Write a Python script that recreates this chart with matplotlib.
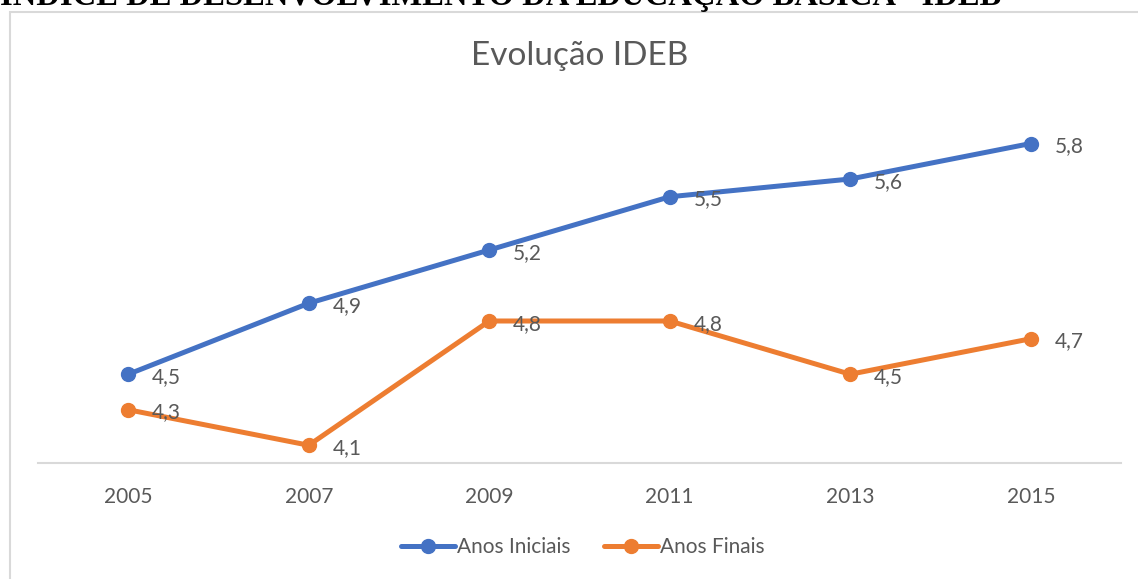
"""Evolução IDEB line chart (Anos Iniciais / Anos Finais)."""
import matplotlib

matplotlib.use("Agg")
import matplotlib.pyplot as plt
from matplotlib.patches import Rectangle

years = ["2005", "2007", "2009", "2011", "2013", "2015"]
anos_iniciais = [4.5, 4.9, 5.2, 5.5, 5.6, 5.8]
anos_finais = [4.3, 4.1, 4.8, 4.8, 4.5, 4.7]

BLUE = "#4472C4"
ORANGE = "#ED7D31"
TEXT = "#595959"
GRID = "#D9D9D9"

plt.rcParams["font.family"] = ["Lato", "DejaVu Sans"]

fig = plt.figure(figsize=(11.38, 5.79), dpi=100)
W, H = 1138, 579

# chart frame, partly cut off at right and bottom
fig.add_artist(Rectangle((10 / W, -0.1), 1.2, 1 - 12 / H + 0.1, transform=fig.transFigure,
                         fill=False, edgecolor=GRID, linewidth=1.5))

# heading of the page, cropped at the top
fig.text(0.0, 1 - 5 / H, "ÍNDICE DE DESENVOLVIMENTO DA EDUCAÇÃO BÁSICA - IDEB",
         family=["Liberation Serif", "DejaVu Serif"], weight="bold", fontsize=23.5,
         ha="left", va="baseline", color="black")

ax = fig.add_axes([38 / W, 1 - 463 / H, (1121 - 38) / W, (463 - 108) / H])
x = list(range(len(years)))
series = [(anos_iniciais, BLUE, "Anos Iniciais"), (anos_finais, ORANGE, "Anos Finais")]
for values, color, label in series:
    ax.plot(x, values, color=color, linewidth=3.6, marker="o", markersize=10,
            solid_capstyle="round", label=label, zorder=3)
    for xi, v in zip(x, values):
        ax.annotate(f"{v:.1f}".replace(".", ","), (xi, v), xytext=(17, -2),
                    textcoords="offset points", ha="left", va="center",
                    fontsize=15, color=TEXT, zorder=4)

ax.set_xlim(-0.5, len(years) - 0.5)
ax.set_ylim(4.0, 6.0)
ax.set_xticks(x)
ax.set_xticklabels(years, fontsize=15, color=TEXT)
ax.tick_params(axis="x", length=0, pad=17)
ax.set_yticks([])
for side in ["top", "left", "right"]:
    ax.spines[side].set_visible(False)
ax.spines["bottom"].set_color(GRID)
ax.spines["bottom"].set_linewidth(1.5)
ax.patch.set_alpha(0)

fig.text(580 / W, 1 - 56 / H, "Evolução IDEB", fontsize=24, color=TEXT,
         ha="center", va="center")

ax.legend(loc="center", bbox_to_anchor=(583 / W, 1 - 547 / H), bbox_transform=fig.transFigure,
          ncol=2, frameon=False, fontsize=15, handlelength=2.6, handletextpad=0.1,
          columnspacing=1.6, labelcolor=TEXT)

fig.savefig("out.png", dpi=100)
